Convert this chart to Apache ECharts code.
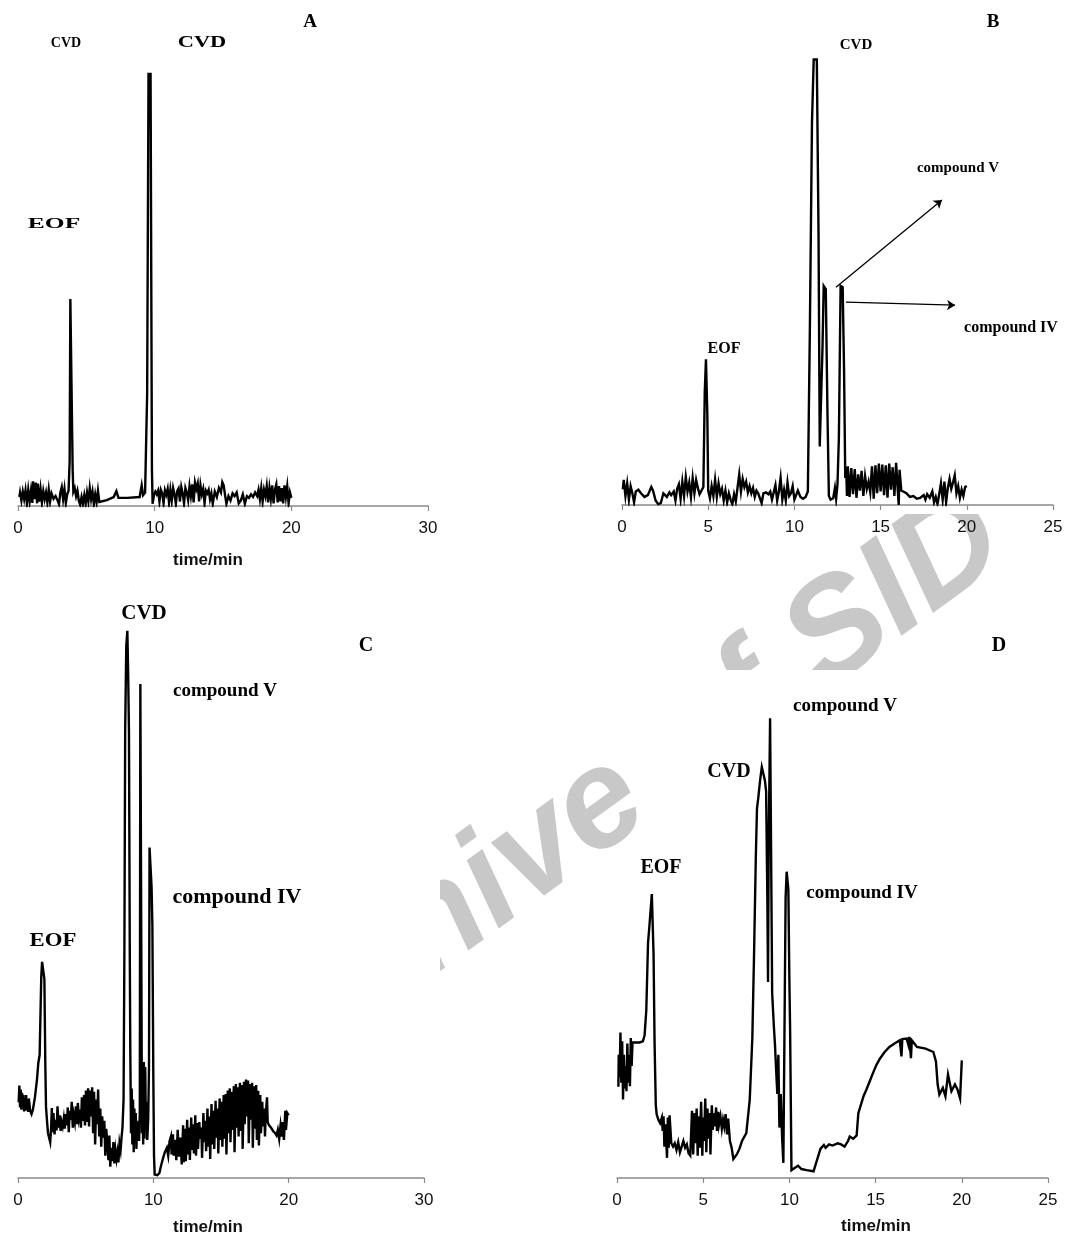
<!DOCTYPE html>
<html>
<head>
<meta charset="utf-8">
<script src="https://cdn.jsdelivr.net/npm/echarts@6/dist/echarts.min.js"></script>
<style>
  html, body { margin: 0; padding: 0; background: #fff; }
  #chart { width: 1067px; height: 1236px; }
</style>
</head>
<body>
<div id="chart"></div>
<script>
// electropherograms, [time/min, signal] (signal in arbitrary units, 0-100)
var traceA = [
  [0.1,2.0],[0.15,3.0],[0.25,1.2],[0.35,3.2],[0.45,1.5],[0.55,3.5],[0.65,0.6],[0.75,3.6],[0.85,1.0],[0.95,3.4],
  [1.05,0.7],[1.1,5.5],[1.2,1.5],[1.3,5.2],[1.4,0.6],[1.45,5.0],[1.55,1.0],[1.65,3.8],[1.75,0.8],[1.85,3.3],
  [1.95,1.5],[2.05,3.0],[2.15,0.8],[2.25,3.6],[2.35,1.0],[2.45,2.8],[2.6,1.6],[2.75,2.2],[2.9,1.2],[3.0,0.4],
  [3.1,3.0],[3.2,4.2],[3.3,1.5],[3.4,3.8],[3.5,0.6],[3.6,2.6],[3.7,3.4],[3.78,10],[3.83,46],[3.95,46],
  [4.0,8],[4.05,3.2],[4.15,4.0],[4.25,2.2],[4.35,3.4],[4.45,1.2],[4.55,0.3],[4.65,2.0],[4.75,0.5],[4.85,2.4],
  [4.95,0.5],[5.05,3.0],[5.15,1.0],[5.25,4.0],[5.35,1.5],[5.45,3.2],[5.55,0.4],[5.65,2.6],[5.75,0.8],[5.85,3.4],
  [5.95,0.9],[6.0,0.8],[6.5,1.3],[7.0,2.0],[7.2,3.3],[7.35,1.8],[8.0,1.8],[8.9,2.0],[9.05,4.6],[9.15,2.4],
  [9.3,3.0],[9.45,25],[9.55,96],[9.7,96],[9.8,8],[9.85,0.5],[9.95,2.5],
  [10.05,3.2],[10.15,2.6],[10.25,3.4],[10.35,1.0],[10.45,3.6],[10.55,2.8],[10.65,0.6],[10.75,3.5],[10.85,2.5],[10.95,3.8],
  [11.05,0.8],[11.15,3.6],[11.25,1.2],[11.35,4.0],[11.45,2.6],[11.55,0.5],[11.65,3.3],[11.75,3.9],[11.85,1.0],[11.95,4.2],
  [12.05,2.8],[12.15,0.6],[12.25,4.0],[12.35,3.0],[12.45,1.3],[12.55,4.4],[12.65,2.2],[12.75,4.8],[12.85,0.8],[12.95,5.2],
  [13.05,3.8],[13.15,5.0],[13.25,1.0],[13.35,4.6],[13.45,2.6],[13.55,3.8],[13.65,0.6],[13.75,3.4],[13.85,2.8],[13.95,3.6],
  [14.05,1.5],[14.15,2.8],[14.25,0.5],[14.4,3.2],[14.55,2.0],[14.7,4.0],[14.85,3.0],[14.95,5.3],[15.05,4.6],[15.15,2.4],
  [15.25,0.5],[15.4,2.2],[15.55,1.2],[15.7,2.8],[15.85,2.2],[16.0,3.0],[16.15,0.6],[16.3,1.2],[16.45,2.6],[16.6,0.5],
  [16.75,2.2],[16.9,1.8],[17.05,2.6],[17.2,2.0],[17.35,3.0],[17.5,2.2],[17.6,3.6],[17.7,1.5],[17.8,4.0],[17.9,1.0],
  [18.0,3.6],[18.1,2.2],[18.2,4.4],[18.3,0.8],[18.4,4.0],[18.5,1.6],[18.6,4.6],[18.7,0.6],[18.8,3.6],[18.9,4.8],
  [19.0,0.8],[19.1,4.4],[19.2,1.0],[19.3,4.0],[19.4,0.6],[19.5,4.6],[19.6,2.0],[19.7,4.4],[19.8,0.6],[19.9,3.0],[20.0,1.8]
];

var traceB = [
  [0.05,3.5],[0.1,5.6],[0.2,2.0],[0.3,4.8],[0.4,1.2],[0.5,4.2],[0.6,2.6],[0.7,0.6],[0.8,3.0],[0.95,3.4],
  [1.1,2.6],[1.3,1.8],[1.5,2.2],[1.7,4.0],[1.8,3.2],[1.95,1.0],[2.1,0.2],[2.25,0.4],[2.4,2.6],[2.5,2.8],
  [2.6,1.8],[2.75,2.8],[2.85,2.2],[3.0,3.0],[3.1,1.0],[3.2,3.6],[3.3,4.6],[3.4,1.4],[3.5,5.2],[3.6,2.0],
  [3.7,6.2],[3.8,3.0],[3.9,5.0],[4.0,1.8],[4.1,6.0],[4.2,2.6],[4.3,5.6],[4.4,3.8],[4.5,2.4],[4.6,2.2],
  [4.72,4.0],[4.8,25],[4.87,32.4],[4.95,20],[5.0,3.2],[5.1,1.5],[5.2,4.2],[5.3,2.0],[5.4,5.6],[5.5,1.8],
  [5.6,4.8],[5.7,2.4],[5.8,3.6],[5.9,1.0],[6.0,3.2],[6.1,0.6],[6.2,2.6],[6.3,1.2],[6.4,0.2],[6.5,2.4],
  [6.6,0.8],[6.7,3.8],[6.8,6.8],[6.9,3.0],[7.0,5.8],[7.1,4.0],[7.2,5.2],[7.3,2.8],[7.4,4.2],[7.5,2.6],
  [7.6,3.8],[7.7,1.8],[7.8,3.2],[7.9,2.6],[8.0,2.8],[8.1,0.4],[8.2,2.6],[8.35,2.8],[8.5,2.4],[8.6,3.0],
  [8.7,1.2],[8.8,2.8],[8.9,4.4],[9.0,1.0],[9.1,3.0],[9.2,6.0],[9.3,1.2],[9.4,3.4],[9.5,1.0],[9.6,5.0],
  [9.7,2.0],[9.8,2.6],[9.9,4.2],[10.0,1.2],[10.1,2.2],[10.2,3.2],[10.35,1.8],[10.5,1.4],[10.65,1.8],[10.72,1.5],
  [10.78,3],[10.9,40],[11.02,85],[11.12,99],[11.3,99],[11.4,60],[11.47,13],[11.57,13],[11.63,35],[11.7,48.7],
  [11.82,48],[11.92,20],[12.0,2.0],[12.1,1.2],[12.25,1.5],[12.35,3.8],[12.42,1.4],[12.5,4.6],[12.58,15],[12.68,48.7],
  [12.8,48.4],[12.88,30],[12.95,6],[13.0,8.5],[13.05,2.0],[13.1,8.6],[13.2,1.8],[13.3,8.2],[13.4,2.4],[13.5,8.0],
  [13.6,1.6],[13.7,6.8],[13.8,3.2],[13.9,7.6],[14.0,2.0],[14.1,6.4],[14.2,3.6],[14.3,5.2],[14.4,2.8],[14.5,8.6],
  [14.6,1.4],[14.7,8.8],[14.8,2.6],[14.9,9.2],[15.0,3.0],[15.1,9.0],[15.2,2.2],[15.3,8.8],[15.4,1.6],[15.5,9.2],
  [15.6,3.4],[15.7,8.4],[15.8,2.0],[15.9,9.4],[16.0,3.0],[16.05,0.0],[16.1,7.8],[16.2,3.2],[16.3,3.0],[16.5,2.6],
  [16.7,1.8],[16.9,2.0],[17.1,1.4],[17.3,1.6],[17.5,2.2],[17.6,1.2],[17.7,2.4],[17.85,1.6],[18.0,3.0],[18.1,0.6],
  [18.2,1.8],[18.3,0.2],[18.4,2.4],[18.5,4.8],[18.6,1.2],[18.7,5.2],[18.8,0.6],[18.9,3.8],[19.0,5.8],[19.1,3.6],
  [19.2,5.0],[19.3,6.6],[19.4,2.6],[19.5,4.2],[19.6,1.6],[19.7,3.4],[19.8,2.0],[19.9,4.0],[20.0,4.2]
];

var traceC = [
  [0.05,13.5],[0.1,16.5],[0.15,12.6],[0.2,15.8],[0.25,12.2],[0.3,15.2],[0.35,12.8],[0.4,14.8],[0.45,11.9],[0.5,14.2],
  [0.55,12.0],[0.6,14.8],[0.65,12.4],[0.7,13.6],[0.75,11.8],[0.8,14.2],[0.9,12.0],[1.0,11.4],[1.1,12.2],[1.25,14.4],
  [1.4,17.5],[1.5,20.5],[1.6,22.0],[1.65,28],[1.72,36],[1.78,38.6],[1.88,38.6],[1.95,35.5],[2.02,20],[2.07,12.7],
  [2.15,10],[2.22,8.0],[2.3,7.2],[2.38,6.4],[2.45,9.0],[2.5,12.5],[2.55,8.2],[2.62,11.6],[2.7,7.8],[2.78,10.4],
  [2.85,8.5],[2.92,12.8],[3.0,9.0],[3.08,11.2],[3.15,8.4],[3.22,10.0],[3.3,9.2],[3.38,10.6],[3.45,8.8],[3.52,11.4],
  [3.6,9.4],[3.68,12.6],[3.75,8.2],[3.82,12.0],[3.9,10.4],[3.97,13.6],[4.05,9.0],[4.12,11.2],[4.2,10.0],[4.28,12.8],
  [4.35,9.6],[4.42,13.4],[4.5,10.8],[4.58,12.2],[4.65,9.0],[4.72,14.4],[4.8,10.2],[4.88,14.8],[4.95,9.4],[5.02,15.6],
  [5.1,10.0],[5.18,16.0],[5.25,9.2],[5.32,15.6],[5.4,11.0],[5.48,16.2],[5.55,8.0],[5.62,15.4],[5.7,6.0],[5.78,14.0],
  [5.85,9.6],[5.92,15.8],[6.0,7.4],[6.08,12.4],[6.15,5.6],[6.22,11.0],[6.3,7.2],[6.38,10.2],[6.45,4.0],[6.52,8.8],
  [6.6,6.2],[6.68,3.2],[6.75,7.6],[6.82,2.0],[6.9,5.4],[6.98,3.0],[7.05,6.4],[7.12,2.6],[7.2,5.0],[7.28,3.4],
  [7.35,4.6],[7.42,2.8],[7.5,6.2],[7.58,5.0],[7.65,7.2],[7.72,9.0],[7.8,14],[7.86,40],[7.92,80],[8.0,95],
  [8.08,97.7],[8.14,90],[8.2,79.5],[8.26,40],[8.3,22],[8.35,8],[8.4,16],[8.45,6],[8.5,14],[8.55,4.6],
  [8.6,12.4],[8.65,6.8],[8.7,11.6],[8.75,5.2],[8.8,9.4],[8.85,7.0],[8.9,10.2],[8.95,6.6],[9.0,12],[9.04,88.2],
  [9.12,88.2],[9.16,8.0],[9.2,14],[9.25,6],[9.3,20.7],[9.35,7.0],[9.4,19.8],[9.45,9.2],[9.5,13.6],[9.55,6.8],
  [9.62,10.5],[9.68,20],[9.72,59],[9.8,59],[9.87,52],[9.93,45],[10.0,18],[10.05,4],[10.1,0.6],[10.2,0.8],
  [10.3,0.5],[10.45,0.9],[10.55,2.0],[10.7,3.4],[10.85,4.6],[11.0,5.4],[11.1,4.0],[11.2,6.6],[11.3,7.4],[11.35,4.2],
  [11.45,7.8],[11.5,4.0],[11.6,6.8],[11.7,3.2],[11.8,8.6],[11.9,3.8],[12.0,7.2],[12.1,2.4],[12.2,9.4],[12.25,2.8],
  [12.35,8.8],[12.4,3.0],[12.5,10.4],[12.55,4.2],[12.65,9.0],[12.7,3.2],[12.8,10.8],[12.85,5.0],[12.95,9.6],[13.0,4.4],
  [13.1,11.2],[13.15,4.0],[13.25,9.8],[13.3,5.2],[13.4,10.0],[13.45,7.0],[13.55,9.0],[13.6,3.6],[13.7,11.6],[13.75,6.4],
  [13.85,10.2],[13.9,4.8],[14.0,12.4],[14.05,5.6],[14.15,11.0],[14.2,3.4],[14.3,13.2],[14.35,6.0],[14.45,12.0],[14.5,5.2],
  [14.6,13.8],[14.65,7.2],[14.75,12.4],[14.8,4.4],[14.9,14.2],[14.95,6.8],[15.05,13.6],[15.1,5.6],[15.2,14.8],[15.25,7.0],
  [15.35,15.0],[15.4,4.2],[15.5,15.6],[15.55,8.0],[15.65,16.0],[15.7,6.4],[15.8,15.4],[15.85,8.6],[15.95,16.4],[16.0,4.6],
  [16.1,16.8],[16.15,9.0],[16.25,16.2],[16.3,7.4],[16.4,17.0],[16.45,8.4],[16.55,16.6],[16.6,5.2],[16.7,17.2],[16.75,9.6],
  [16.85,17.6],[16.9,11.0],[17.0,17.4],[17.05,6.2],[17.15,16.8],[17.2,10.4],[17.3,17.0],[17.35,5.4],[17.45,16.4],[17.5,8.8],
  [17.6,16.6],[17.65,6.8],[17.75,15.6],[17.8,5.8],[17.9,14.8],[17.95,8.0],[18.05,13.6],[18.1,9.2],[18.2,12.4],[18.25,7.4],
  [18.3,11.2],[18.4,14.4],[18.45,10.0],[18.55,9.4],[18.7,9.0],[18.85,8.4],[19.0,8.0],[19.1,7.6],[19.2,8.6],[19.3,7.0],
  [19.4,9.4],[19.5,7.4],[19.55,10.0],[19.65,6.8],[19.75,12.0],[19.8,8.6],[19.9,11.6],[20.0,11.2]
];

var traceD = [
  [0.08,16.3],[0.1,22],[0.15,18],[0.2,26],[0.25,17],[0.3,24.4],[0.35,14],[0.4,22],[0.45,16],[0.5,20],
  [0.55,15.5],[0.6,24],[0.65,17],[0.7,22],[0.75,16.4],[0.8,25],[0.85,20],[0.9,24.2],[1.0,24.2],[1.3,24.2],
  [1.5,24.4],[1.6,25.5],[1.7,30],[1.8,42],[1.88,45],[1.95,45],[2.02,50.7],[2.08,50.7],[2.12,40],[2.18,24],
  [2.25,13],[2.3,11.4],[2.4,10.4],[2.5,9.8],[2.6,10.8],[2.65,8.4],[2.7,11.0],[2.75,5.6],[2.82,9.6],[2.9,3.6],
  [2.95,10.8],[3.0,5.4],[3.05,11.2],[3.15,6.2],[3.25,5.6],[3.35,6.2],[3.45,5.0],[3.55,6.4],[3.65,4.6],[3.75,4.8],
  [3.85,6.6],[3.95,5.4],[4.05,6.0],[4.15,4.4],[4.25,4.0],[4.35,12.0],[4.42,4.2],[4.5,11.6],[4.55,6.2],[4.62,12.4],
  [4.68,4.0],[4.75,11.0],[4.8,5.4],[4.88,13.6],[4.95,4.0],[5.0,10.8],[5.05,6.6],[5.12,14.2],[5.18,4.6],[5.25,12.4],
  [5.3,7.0],[5.38,11.6],[5.42,4.2],[5.5,13.0],[5.55,8.6],[5.62,11.6],[5.68,9.2],[5.75,12.6],[5.8,8.4],[5.88,11.8],
  [5.92,9.6],[6.0,11.0],[6.08,8.8],[6.15,10.4],[6.22,9.2],[6.3,11.4],[6.38,7.8],[6.45,10.6],[6.5,8.6],[6.55,6.6],
  [6.65,5.4],[6.75,3.4],[6.85,3.2],[6.95,4.2],[7.1,5.2],[7.25,6.6],[7.5,8],[7.7,14],[7.85,25],[7.95,40],
  [8.05,57],[8.12,66],[8.2,68],[8.3,71],[8.4,73.4],[8.5,73.4],[8.58,71],[8.65,69],[8.72,50],[8.76,35],
  [8.8,60],[8.88,82.1],[8.95,82.1],[9.0,33],[9.1,27],[9.16,24],[9.25,18],[9.3,15],[9.36,22],[9.42,9],
  [9.5,15],[9.58,7],[9.65,2.7],[9.72,3],[9.78,50],[9.84,54.7],[9.94,51.5],[10.0,35],[10.04,26.8],[10.12,1.4],
  [10.3,1.8],[10.5,2.2],[10.7,1.6],[11.0,1.4],[11.4,1.2],[11.6,3.2],[11.8,5.2],[12.0,5.9],[12.1,5.4],[12.3,6.0],
  [12.5,5.8],[12.8,6.2],[13.0,6.0],[13.2,5.6],[13.4,6.6],[13.5,7.4],[13.7,7.0],[13.9,7.6],[14.0,11.6],[14.3,14.6],
  [14.48,15.9],[14.7,17.6],[14.87,18.9],[15.05,20.2],[15.25,21.3],[15.5,22.4],[15.8,23.4],[16.1,24.0],[16.4,24.6],[16.5,21.7],
  [16.55,24.8],[16.8,24.9],[16.9,23.8],[16.95,25.2],[17.05,21.4],[17.1,24.6],[17.4,23.4],[17.9,23.1],[18.35,22.5],[18.5,20.8],
  [18.6,16.7],[18.7,14.9],[18.9,16.1],[19.05,14.6],[19.2,18.5],[19.4,15.5],[19.6,16.7],[19.75,15.8],[19.9,14.2],[20.0,21]
];

var tickMaxA = 30, tickMaxB = 25, tickMaxC = 30, tickMaxD = 25;
var tickStepA = 10, tickStepB = 5, tickStepC = 10, tickStepD = 5;

var chart = echarts.init(document.getElementById('chart'), null, { renderer: 'canvas' });

var serifBold = 'bold {s}px "Liberation Serif", "Times New Roman", serif';
function label(txt, x, y, size, sx) {
  return {
    type: 'text', x: x, y: y, z: 50, scaleX: sx || 1,
    style: {
      text: txt, fill: '#000',
      font: serifBold.replace('{s}', size),
      textAlign: 'center', textVerticalAlign: 'middle',
      align: 'center', verticalAlign: 'middle'
    }
  };
}
function axisTitle(x, y) {
  return {
    type: 'text', x: x, y: y, z: 50,
    style: {
      text: 'time/min', fill: '#111',
      font: 'bold 17px "Liberation Sans", Arial, sans-serif',
      textAlign: 'center', textVerticalAlign: 'middle',
      align: 'center', verticalAlign: 'middle'
    }
  };
}
// white panes that sit between the watermark and the charts
function pane(x, y, w, h) {
  return { type: 'rect', z: -5, silent: true, shape: { x: x, y: y, width: w, height: h }, style: { fill: '#fff' } };
}

function xAxisFor(idx, max, step) {
  return {
    type: 'value', gridIndex: idx, min: 0, max: max, interval: step,
    axisLine: { show: true, lineStyle: { color: '#8a8a8a', width: 1.5 } },
    axisTick: { show: true, length: 5, lineStyle: { color: '#8a8a8a', width: 1.2 } },
    axisLabel: { show: true, margin: 14, fontSize: 17, color: '#111', fontFamily: '"Liberation Sans", Arial, sans-serif' },
    splitLine: { show: false }
  };
}
function yAxisFor(idx) {
  return { type: 'value', gridIndex: idx, min: 0, max: 100, show: false, splitLine: { show: false } };
}
function trace(idx, data, extra) {
  var s = {
    type: 'line', xAxisIndex: idx, yAxisIndex: idx, data: data,
    showSymbol: false, symbol: 'none', animation: false, z: 5,
    lineStyle: { color: '#000', width: 2.4, join: 'miter' }
  };
  if (extra) { for (var k in extra) s[k] = extra[k]; }
  return s;
}

var option = {
  backgroundColor: '#fff',
  animation: false,
  grid: [
    { left: 18, top: 56, right: 639, bottom: 730 },
    { left: 622, top: 55, right: 14, bottom: 731 },
    { left: 18, top: 618, right: 643, bottom: 58 },
    { left: 617, top: 618, right: 19, bottom: 58 }
  ],
  xAxis: [xAxisFor(0, tickMaxA, tickStepA), xAxisFor(1, tickMaxB, tickStepB), xAxisFor(2, tickMaxC, tickStepC), xAxisFor(3, tickMaxD, tickStepD)],
  yAxis: [yAxisFor(0), yAxisFor(1), yAxisFor(2), yAxisFor(3)],
  series: [
    trace(0, traceA),
    trace(1, traceB, {
      markLine: {
        silent: true, symbol: ['none', 'arrow'], symbolSize: 8, animation: false,
        label: { show: false },
        lineStyle: { color: '#000', width: 1.3, type: 'solid' },
        data: [
          [{ coord: [12.41, 48.4] }, { coord: [18.56, 67.8] }],
          [{ coord: [12.99, 45.1] }, { coord: [19.32, 44.4] }]
        ]
      }
    }),
    trace(2, traceC),
    trace(3, traceD)
  ],
  graphic: [
    {
      type: 'text', x: 603, y: 805, rotation: 36 * Math.PI / 180, z: -10, silent: true,
      style: {
        text: 'Archive of SID', fill: '#c8c8c8',
        font: 'italic bold 140px "Liberation Sans", Arial, sans-serif',
        textAlign: 'center', textVerticalAlign: 'middle',
        align: 'center', verticalAlign: 'middle'
      }
    },
    pane(0, 0, 600, 590),
    pane(600, 0, 467, 514),
    pane(0, 595, 440, 588),
    pane(645, 670, 422, 566),
    // panel A
    label('A', 310, 22, 19),
    label('CVD', 66, 43, 14),
    label('CVD', 202, 43, 16, 1.4),
    label('EOF', 54, 224, 15, 1.7),
    axisTitle(208, 560),
    // panel B
    label('B', 993, 22, 19),
    label('CVD', 856, 45, 15),
    label('compound V', 958, 168, 15),
    label('compound IV', 1011, 328, 16),
    label('EOF', 724, 349, 16),
    // panel C
    label('C', 366, 646, 20),
    label('CVD', 144, 614, 21),
    label('compound V', 225, 691, 19),
    label('compound IV', 237, 898, 20, 1.1),
    label('EOF', 53, 941, 19, 1.2),
    axisTitle(208, 1227),
    // panel D
    label('D', 999, 646, 20),
    label('compound V', 845, 706, 19),
    label('CVD', 729, 772, 20),
    label('EOF', 661, 868, 20),
    label('compound IV', 862, 893, 19),
    axisTitle(876, 1226)
  ]
};

chart.setOption(option, true);
</script>
</body>
</html>
